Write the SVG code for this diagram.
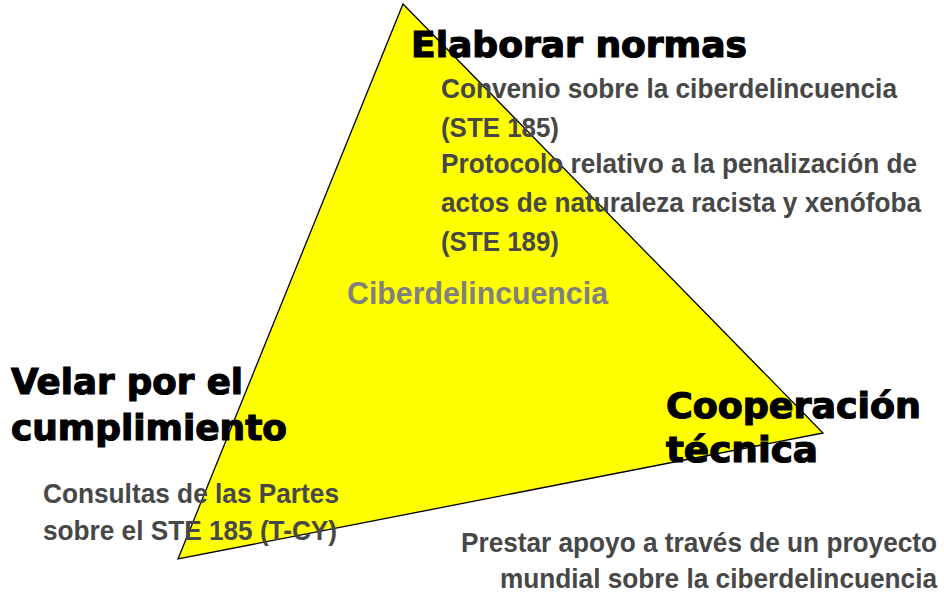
<svg xmlns="http://www.w3.org/2000/svg" width="944" height="596" viewBox="0 0 944 596">
<style>
.h{font-family:"DejaVu Sans","Verdana",sans-serif;font-weight:bold;fill:#000;stroke:#000;stroke-width:1.2px;font-size:35px}
.t{font-family:"Liberation Sans Narrow","Arial Narrow","Liberation Sans",sans-serif;font-weight:bold;fill:#474747;font-size:28px}
.c{font-family:"Liberation Sans Narrow","Arial Narrow","Liberation Sans",sans-serif;font-weight:bold;fill:#808080;font-size:31px}
</style>
<rect width="944" height="596" fill="#fff"/>
<g id="triangle">
<polygon points="403,4 823,433 178,559" fill="#ffff00" stroke="#000" stroke-width="1.3" stroke-linejoin="miter"/>
<text class="c" x="347" y="304" textLength="261" lengthAdjust="spacingAndGlyphs">Ciberdelincuencia</text>
</g>
<g id="elaborar">
<text class="h" x="411" y="57" textLength="336" lengthAdjust="spacingAndGlyphs">Elaborar normas</text>
<text class="t" x="441" y="98" textLength="456" lengthAdjust="spacingAndGlyphs">Convenio sobre la ciberdelincuencia</text>
<text class="t" x="441" y="137" textLength="118" lengthAdjust="spacingAndGlyphs">(STE 185)</text>
<text class="t" x="441" y="173" textLength="476" lengthAdjust="spacingAndGlyphs">Protocolo relativo a la penalización de</text>
<text class="t" x="441" y="212" textLength="480" lengthAdjust="spacingAndGlyphs">actos de naturaleza racista y xenófoba</text>
<text class="t" x="441" y="251" textLength="118" lengthAdjust="spacingAndGlyphs">(STE 189)</text>
</g>
<g id="velar">
<text class="h" x="11" y="394" textLength="232" lengthAdjust="spacingAndGlyphs">Velar por el</text>
<text class="h" x="11" y="440" textLength="276" lengthAdjust="spacingAndGlyphs">cumplimiento</text>
<text class="t" x="43" y="503" textLength="296" lengthAdjust="spacingAndGlyphs">Consultas de las Partes</text>
<text class="t" x="43" y="540" textLength="294" lengthAdjust="spacingAndGlyphs">sobre el STE 185 (T-CY)</text>
</g>
<g id="cooperacion">
<text class="h" x="666" y="418" textLength="255" lengthAdjust="spacingAndGlyphs">Cooperación</text>
<text class="h" x="666" y="462" textLength="152" lengthAdjust="spacingAndGlyphs">técnica</text>
<text class="t" x="461" y="552" textLength="476" lengthAdjust="spacingAndGlyphs">Prestar apoyo a través de un proyecto</text>
<text class="t" x="500" y="588" textLength="437" lengthAdjust="spacingAndGlyphs">mundial sobre la ciberdelincuencia</text>
</g>
<g id="connectors"></g>
</svg>
